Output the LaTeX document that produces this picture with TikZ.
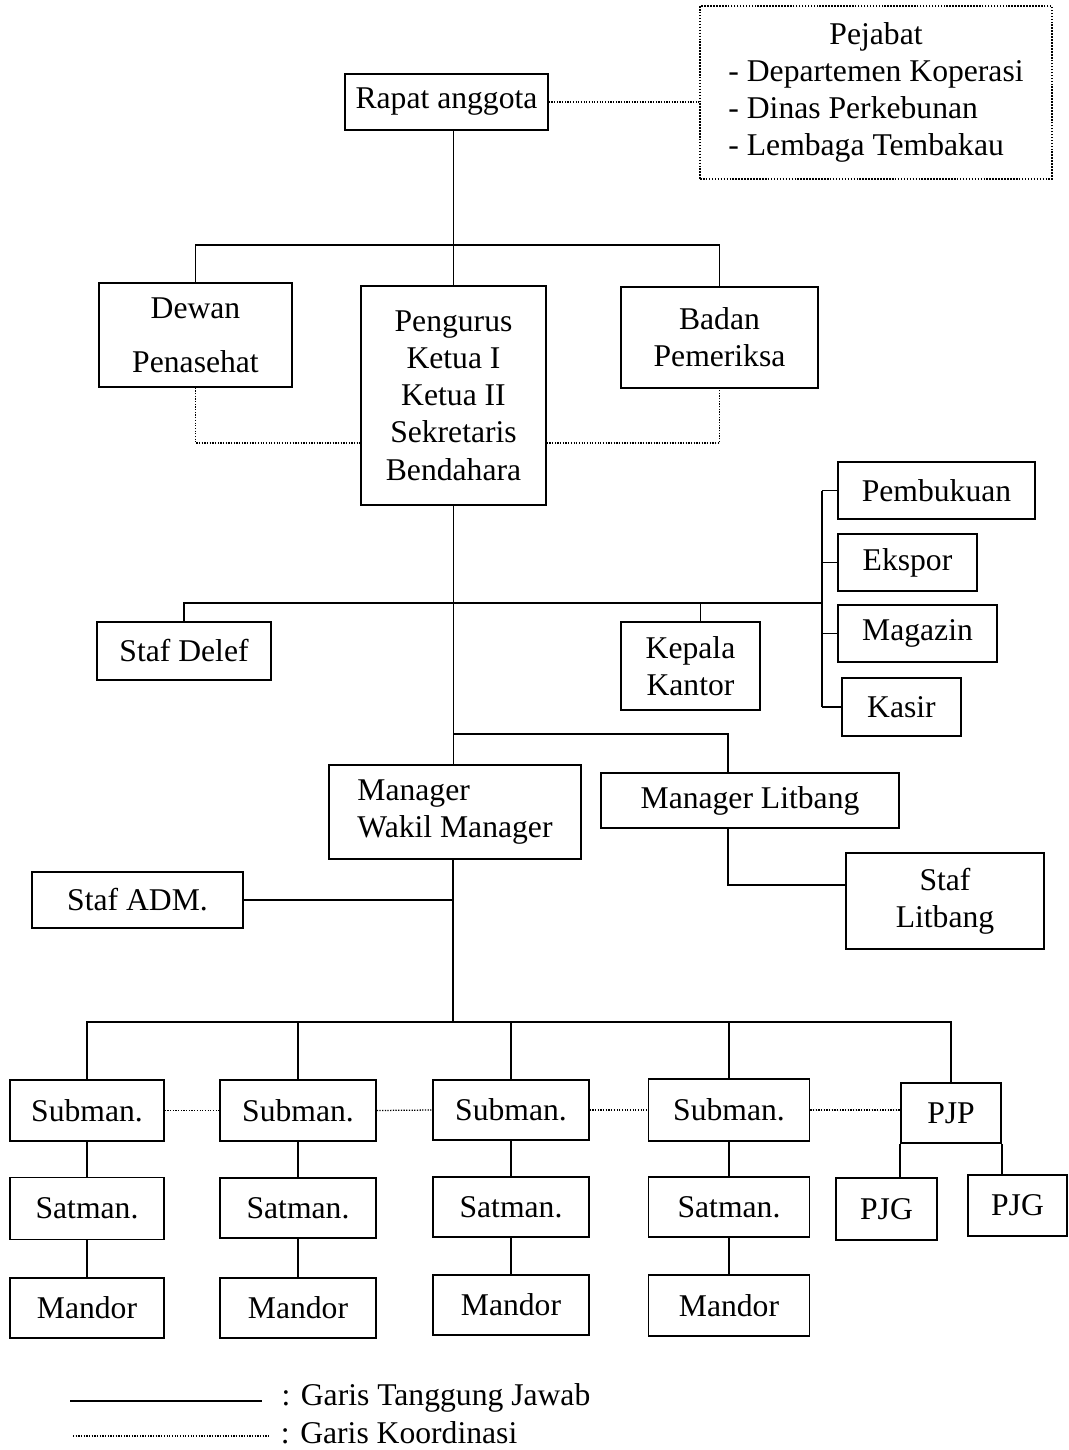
\documentclass[tikz,border=0pt]{standalone}
\usepackage{fontspec}
\setmainfont{Liberation Serif}
\usetikzlibrary{calc}

\tikzset{
    box/.style 2 args={draw, line width=1.1pt, minimum width=#1*0.025cm, minimum height=#2*0.025cm, inner sep=0pt, align=center},
    garis/.style={line width=1.1pt},
    koord/.style={densely dotted, line width=0.9pt}
}

\begin{document}
\begin{tikzpicture}[x=0.025cm, y=-0.025cm, font=\fontsize{22.5}{26.5}\selectfont]
        \useasboundingbox (0,0) rectangle (1069,1450);

        \node[box={203}{56}] (rapat) at (446.5,102) {Rapat anggota};
        \node[box={352}{173}, koord] (pejabat) at (876,92.5) {\begin{tabular}{@{}l@{}}\multicolumn{1}{@{}c@{}}{Pejabat}\\- Departemen Koperasi\\- Dinas Perkebunan\\- Lembaga Tembakau\end{tabular}};

        \node[box={193}{104}] (dewan) at (195.5,335) {Dewan\\[12pt]Penasehat};
        \node[box={185}{219}] (pengurus) at (453.5,395.5) {Pengurus\\Ketua I\\Ketua II\\Sekretaris\\Bendahara};
        \node[box={197}{101}] (badan) at (719.5,337.5) {Badan\\Pemeriksa};

        \node[box={174}{58}] (delef) at (184,651) {Staf Delef};
        \node[box={139}{88}] (kepala) at (690.5,666) {Kepala\\Kantor};
        \node[box={197}{57}] (pembukuan) at (936.5,490.5) {Pembukuan};
        \node[box={139}{57}] (ekspor) at (907.5,562.5) {Ekspor};
        \node[box={159}{57}] (magazin) at (917.5,633.5) {Magazin};
        \node[box={119}{58}] (kasir) at (901.5,707) {Kasir};

        \node[box={252}{94}, align=left] (manager) at (455,812) {Manager\\Wakil Manager};
        \node[box={298}{55}] (litbang) at (750,800.5) {Manager Litbang};
        \node[box={198}{96}] (staflitbang) at (945,901) {Staf\\Litbang};
        \node[box={211}{56}] (stafadm) at (137.5,900) {Staf ADM.};

        \node[box={154}{61}] (sub1) at (87,1110.5) {Subman.};
        \node[box={156}{61}] (sub2) at (298,1110.5) {Subman.};
        \node[box={156}{60}] (sub3) at (511,1110) {Subman.};
        \node[box={161}{62}] (sub4) at (729,1110) {Subman.};
        \node[box={100}{60}] (pjp) at (951,1113) {PJP};

        \node[box={154}{62}] (sat1) at (87,1208.5) {Satman.};
        \node[box={156}{60}] (sat2) at (298,1208) {Satman.};
        \node[box={156}{60}] (sat3) at (511,1207) {Satman.};
        \node[box={161}{60}] (sat4) at (729,1207) {Satman.};
        \node[box={101}{62}] (pjga) at (886.5,1209) {PJG};
        \node[box={99}{61}] (pjgb) at (1017.5,1205.5) {PJG};

        \node[box={154}{60}] (man1) at (87,1308) {Mandor};
        \node[box={156}{60}] (man2) at (298,1308) {Mandor};
        \node[box={156}{60}] (man3) at (511,1305) {Mandor};
        \node[box={161}{61}] (man4) at (729,1305.5) {Mandor};

        \coordinate (bar1) at (453,245);
        \coordinate (bar2) at (453,603);
        \coordinate (bar3) at (453,1022);
        \coordinate (kd) at (453,443);
        \coordinate (br) at (822,603);
        \coordinate (lb) at (728,734);
        \coordinate (kk) at ($(kepala.north)+(10,0)$);

        \draw[koord] (rapat.east) -- (pejabat.west |- rapat.east);
        \draw[garis] (rapat.south -| pengurus.north) -- (pengurus.north);
        \draw[garis] (dewan.north) |- (bar1) -| (badan.north);
        \draw[koord] (dewan.south) |- (pengurus.west |- kd);
        \draw[koord] (pengurus.east |- kd) -| (badan.south);

        \draw[garis] (pengurus.south) -- (pengurus.south |- manager.north);
        \draw[garis] (delef.north) |- (br);
        \draw[garis] (kk) -- (kk |- bar2);
        \draw[garis] (br |- pembukuan.west) -- (br |- kasir.west);
        \draw[garis] (br |- pembukuan.west) -- (pembukuan.west);
        \draw[garis] (br |- ekspor.west) -- (ekspor.west);
        \draw[garis] (br |- magazin.west) -- (magazin.west);
        \draw[garis] (br |- kasir.west) -- (kasir.west);

        \draw[garis] (pengurus.south |- lb) -| (lb |- litbang.north);
        \draw[garis] (lb |- litbang.south) |- ($(staflitbang.west)+(0,-16)$);

        \draw[garis] (stafadm.east) -- (stafadm.east -| bar3);
        \draw[garis] (manager.south -| bar3) -- (bar3);
        \draw[garis] (sub1.north) |- (bar3) -| (pjp.north);
        \draw[garis] (sub2.north) -- (sub2.north |- bar3);
        \draw[garis] (sub3.north) -- (sub3.north |- bar3);
        \draw[garis] (sub4.north) -- (sub4.north |- bar3);

        \draw[koord] (sub1.east) -- (sub2.west);
        \draw[koord] (sub2.east) -- (sub3.west);
        \draw[koord] (sub3.east) -- (sub4.west);
        \draw[koord] (sub4.east) -- (pjp.west |- sub4.east);

        \draw[garis] (sub1.south) -- (sat1.north) (sat1.south) -- (man1.north);
        \draw[garis] (sub2.south) -- (sat2.north) (sat2.south) -- (man2.north);
        \draw[garis] (sub3.south) -- (sat3.north) (sat3.south) -- (man3.north);
        \draw[garis] (sub4.south) -- (sat4.north) (sat4.south) -- (man4.north);
        \draw[garis] (pjp.south west) -- (pjp.south west |- pjga.north);
        \draw[garis] (pjp.south east) -- (pjp.south east |- pjgb.north);

        \coordinate (lga) at (70,1401);
        \coordinate (lgb) at (262,1401);
        \coordinate (lgc) at (73,1436);
        \coordinate (lgd) at (270,1436);
        \draw[garis] (lga) -- (lgb) node[right, xshift=10pt, yshift=2pt] (lgtanggung) {: Garis Tanggung Jawab};
        \draw[koord] (lgc) -- (lgd) node[right, xshift=4pt, yshift=2pt] (lgkoord) {: Garis Koordinasi};
    \end{tikzpicture}
\end{document}
